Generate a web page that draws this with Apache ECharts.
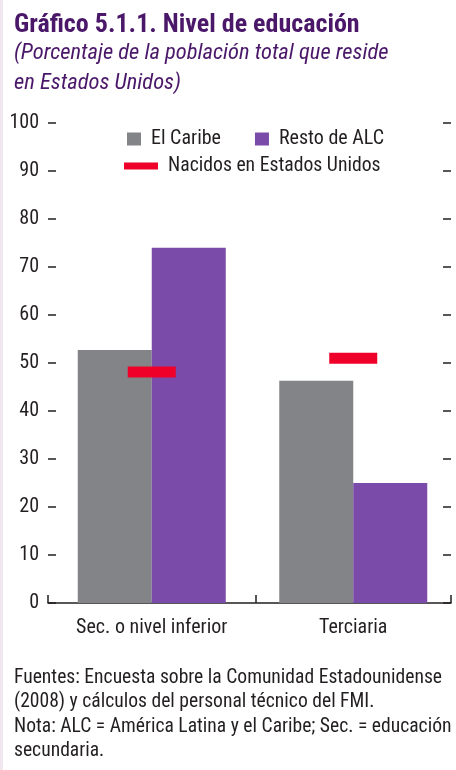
<!DOCTYPE html>
<html>
<head>
<meta charset="utf-8">
<script src="https://cdn.jsdelivr.net/npm/echarts@6/dist/echarts.min.js"></script>
<style>
html,body{margin:0;padding:0;background:#fff;}
#chart{width:456px;height:770px;}
body::before{content:"";position:fixed;left:0;top:0;width:3px;height:100%;background:#f1e7f1;z-index:10;}
</style>
</head>
<body>
<div id="chart"></div>
<script>
var categories = ['Sec. o nivel inferior', 'Terciaria'];
var caribe = [52.7, 46.3];
var restoALC = [74.0, 25.0];
var nacidosEEUU = [48.1, 51.0];
var yTicks = [0, 10, 20, 30, 40, 50, 60, 70, 80, 90, 100];

var FONT = "'Roboto Condensed', 'DejaVu Sans Condensed', sans-serif";
var TXT = '#231F20';
var chart = echarts.init(document.getElementById('chart'));
chart.setOption({
  animation: false,
  backgroundColor: '#fff',
  title: [
    {
      text: 'Gráfico 5.1.1. Nivel de educación',
      left: 9, top: 7,
      textStyle: {fontFamily: FONT, fontWeight: 'bold', fontSize: 26, color: '#4A1769'}
    },
    {
      text: '(Porcentaje de la población total que reside\nen Estados Unidos)',
      left: 9, top: 33,
      textStyle: {fontFamily: FONT, fontStyle: 'italic', fontWeight: 'normal', fontSize: 22.5, lineHeight: 30, color: '#4A1769'}
    },
    {
      text: 'Fuentes: Encuesta sobre la Comunidad Estadounidense\n(2008) y cálculos del personal técnico del FMI.\nNota: ALC = América Latina y el Caribe; Sec. = educación\nsecundaria.',
      left: 9, top: 661,
      textStyle: {fontFamily: FONT, fontWeight: 'normal', fontSize: 19.6, lineHeight: 24.3, color: TXT}
    }
  ],
  legend: [
    {
      left: 122, top: 124,
      data: ['El Caribe', 'Resto de ALC'],
      icon: 'rect', itemWidth: 14, itemHeight: 13, itemGap: 34,
      textStyle: {fontFamily: FONT, fontSize: 20, color: TXT, padding: [0, 0, 0, 5]}
    },
    {
      left: 119, top: 151,
      data: [{name: 'Nacidos en Estados Unidos', icon: 'rect'}],
      itemWidth: 34, itemHeight: 7,
      textStyle: {fontFamily: FONT, fontSize: 19.7, color: TXT, padding: [0, 0, 0, 5]}
    }
  ],
  grid: [
    {left: 51, right: 2, top: 123, bottom: 167},
    {left: 48, right: 5, top: 123, bottom: 167}
  ],
  xAxis: [
    {
      type: 'category', gridIndex: 0, data: categories,
      axisLine: {show: false}, axisTick: {show: false},
      axisLabel: {fontFamily: FONT, fontSize: 20, color: TXT, margin: 15, interval: 0}
    },
    {
      type: 'value', gridIndex: 1, min: 0, max: 403, interval: 208,
      axisLine: {show: true, lineStyle: {color: TXT, width: 1.5}},
      axisTick: {show: true, inside: true, length: 8, lineStyle: {color: TXT, width: 1.5}},
      axisLabel: {show: false}, splitLine: {show: false}
    }
  ],
  yAxis: [
    {
      type: 'value', gridIndex: 0, position: 'left', offset: 3,
      min: 0, max: 100, interval: 10,
      axisLine: {show: false},
      axisTick: {show: true, inside: true, length: 8, lineStyle: {color: TXT, width: 1.5}},
      axisLabel: {fontFamily: FONT, fontSize: 20, color: TXT, margin: 9,
        formatter: function (v) { return yTicks.indexOf(v) >= 0 ? String(v) : ''; }},
      splitLine: {show: false}
    },
    {
      type: 'value', gridIndex: 0, position: 'right', offset: -3,
      min: 0, max: 100, interval: 10,
      axisLine: {show: false},
      axisTick: {show: true, inside: true, length: 8, lineStyle: {color: TXT, width: 1.5}},
      axisLabel: {show: false}, splitLine: {show: false}
    },
    {
      type: 'value', gridIndex: 1, show: false, min: 0, max: 100
    }
  ],
  series: [
    {
      name: 'El Caribe', type: 'bar', xAxisIndex: 0, yAxisIndex: 0,
      data: caribe, barWidth: 74, barGap: '0%',
      itemStyle: {color: '#838488'}
    },
    {
      name: 'Resto de ALC', type: 'bar', xAxisIndex: 0, yAxisIndex: 0,
      data: restoALC, barWidth: 74, barGap: '0%',
      itemStyle: {color: '#7B4BAA'}
    },
    {
      name: 'Nacidos en Estados Unidos', type: 'scatter', xAxisIndex: 0, yAxisIndex: 0,
      data: nacidosEEUU, symbol: 'rect', symbolSize: [48, 11], z: 5,
      itemStyle: {color: '#EE0029', opacity: 1}
    }
  ]
});
</script>
</body>
</html>
